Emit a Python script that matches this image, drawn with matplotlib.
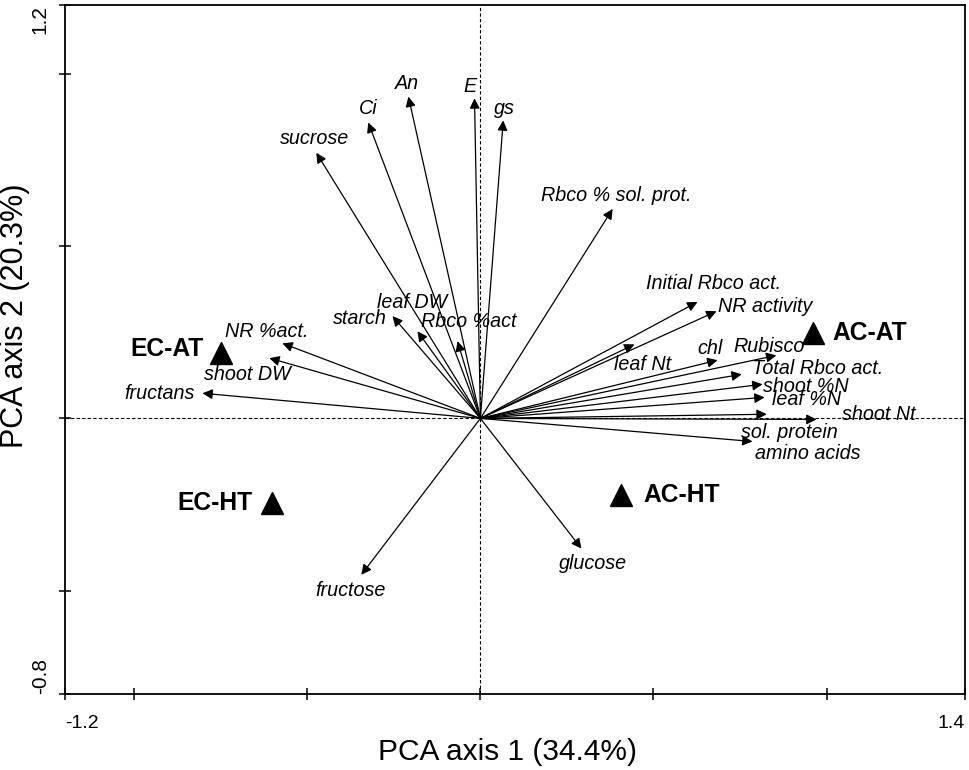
import numpy as np
import matplotlib.pyplot as plt

# variable loadings (PCA axis 1, PCA axis 2)
var_names = ['E', 'gs', 'An', 'Ci', 'sucrose', 'Rbco % sol. prot.',
             'NR %act.', 'shoot DW', 'fructans', 'starch', 'leaf DW', 'Rbco %act',
             'Initial Rbco act.', 'NR activity', 'leaf Nt', 'chl', 'Rubisco',
             'Total Rbco act.', 'shoot %N', 'leaf %N', 'shoot Nt', 'sol. protein',
             'amino acids', 'fructose', 'glucose']
var_x = [-0.017, 0.066, -0.208, -0.324, -0.474, 0.382,
         -0.572, -0.610, -0.803, -0.254, -0.182, -0.066,
         0.627, 0.682, 0.445, 0.685, 0.855,
         0.755, 0.815, 0.821, 0.971, 0.827,
         0.786, -0.344, 0.292]
var_y = [0.929, 0.865, 0.934, 0.859, 0.771, 0.608,
         0.218, 0.175, 0.073, 0.297, 0.253, 0.224,
         0.338, 0.311, 0.215, 0.169, 0.183,
         0.128, 0.099, 0.061, -0.003, 0.012,
         -0.067, -0.454, -0.378]

# treatment scores
groups = ['EC-AT', 'EC-HT', 'AC-HT', 'AC-AT']
grp_x = [-0.749, -0.601, 0.405, 0.960]
grp_y = [0.189, -0.245, -0.221, 0.247]

# label placement (offset pixels from arrow tip, alignment)
lab_pos = {
    'E': (-5, 12, 'center'), 'gs': (1, 12, 'center'), 'An': (-1, 13, 'center'),
    'Ci': (0, 14, 'center'), 'sucrose': (-2, 14, 'center'),
    'Rbco % sol. prot.': (4, 13, 'center'),
    'NR %act.': (-16, 12, 'center'), 'shoot DW': (-22, -16, 'center'),
    'fructans': (-8, 0, 'right'), 'starch': (-6, -2, 'right'),
    'leaf DW': (-5, 29, 'center'), 'Rbco %act': (11, 20, 'center'),
    'Initial Rbco act.': (16, 18, 'center'), 'NR activity': (2, 5, 'left'),
    'leaf Nt': (8, -20, 'center'), 'chl': (-8, 12, 'center'),
    'Rubisco': (-7, 9, 'center'), 'Total Rbco act.': (10, 6, 'left'),
    'shoot %N': (0, -2, 'left'), 'leaf %N': (7, -2, 'left'),
    'shoot Nt': (25, 5, 'left'), 'sol. protein': (-26, -18, 'left'),
    'amino acids': (3, -12, 'left'), 'fructose': (-11, -16, 'center'),
    'glucose': (12, -15, 'center'),
}
grp_pos = {'EC-AT': (-18, 4, 'right'), 'EC-HT': (-20, 0, 'right'),
           'AC-HT': (23, 0, 'left'), 'AC-AT': (20, 0, 'left')}

plt.rcParams['font.family'] = ['Liberation Sans', 'DejaVu Sans']

fig = plt.figure(figsize=(9.69, 7.70), dpi=100)
ax = fig.add_axes([0.0671, 0.0987, 0.9288, 0.8948])
ax.set_xlim(-1.2, 1.4)
ax.set_ylim(-0.8, 1.2)

ax.axhline(0, color='black', lw=0.8, ls=(0, (3, 2)), zorder=1)
ax.axvline(0, color='black', lw=0.8, ls=(0, (3, 2)), zorder=1)

for n, x, y in zip(var_names, var_x, var_y):
    ax.annotate('', xy=(x, y), xytext=(0, 0),
                arrowprops=dict(arrowstyle='-|>', color='black', lw=0.9,
                                mutation_scale=15, shrinkA=0, shrinkB=0))
    dx, dy, ha = lab_pos[n]
    ax.annotate(n, xy=(x, y), xytext=(dx, dy), textcoords='offset pixels',
                ha=ha, va='center', fontsize=14.2, style='italic')

ax.plot(grp_x, grp_y, ls='none', marker='^', color='black', markersize=16)
for g, x, y in zip(groups, grp_x, grp_y):
    dx, dy, ha = grp_pos[g]
    ax.annotate(g, xy=(x, y), xytext=(dx, dy), textcoords='offset pixels',
                ha=ha, va='center', fontsize=17.7, fontweight='bold')

ax.set_xticks([-1.2, -1.0, -0.5, 0, 0.5, 1.0, 1.4])
ax.set_xticklabels(['-1.2', '', '', '', '', '', '1.4'], fontsize=14)
ax.set_yticks([-0.8, -0.5, 0, 0.5, 1.0, 1.2])
ax.set_yticklabels(['-0.8', '', '', '', '', '1.2'], rotation=90, fontsize=15)
xl = ax.get_xticklabels()
xl[0].set_ha('left')
xl[-1].set_ha('right')
yl = ax.get_yticklabels()
yl[0].set_va('bottom')
yl[-1].set_va('top')
ax.tick_params(direction='inout', length=8, width=1.1)
ax.tick_params(axis='x', pad=11)
ax.tick_params(axis='y', pad=7)
for s in ax.spines.values():
    s.set_linewidth(1.3)

ax.set_xlabel('PCA axis 1 (34.4%)', fontsize=21.5)
ax.xaxis.set_label_coords(0.492, -0.064)
ax.set_ylabel('PCA axis 2 (20.3%)', fontsize=22)
ax.yaxis.set_label_coords(-0.039, 0.549)

fig.savefig('out.png', dpi=100)
